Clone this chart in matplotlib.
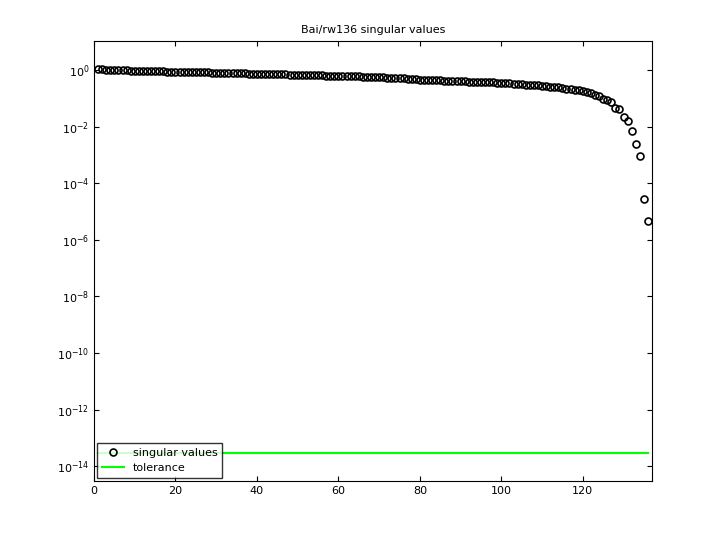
import numpy as np
import matplotlib
matplotlib.use("Agg")
import matplotlib.pyplot as plt

# log10 of singular values, index 1..136
LOG_SV = [
    0.03, 0.02, 0.01, 0.00, -0.01, -0.01, -0.02, -0.02, -0.03, -0.03,
    -0.03, -0.04, -0.04, -0.04, -0.05, -0.05, -0.05, -0.06, -0.06, -0.07,
    -0.07, -0.07, -0.08, -0.08, -0.08, -0.09, -0.09, -0.09, -0.10, -0.10,
    -0.10, -0.11, -0.11, -0.11, -0.12, -0.12, -0.12, -0.13, -0.13, -0.14,
    -0.14, -0.14, -0.15, -0.15, -0.15, -0.16, -0.16, -0.17, -0.17, -0.17,
    -0.18, -0.18, -0.18, -0.19, -0.19, -0.19, -0.20, -0.20, -0.20, -0.21,
    -0.21, -0.22, -0.22, -0.23, -0.23, -0.24, -0.24, -0.25, -0.25, -0.26,
    -0.26, -0.27, -0.28, -0.28, -0.29, -0.30, -0.31, -0.32, -0.33, -0.35,
    -0.35, -0.36, -0.36, -0.37, -0.37, -0.38, -0.38, -0.39, -0.39, -0.40,
    -0.40, -0.41, -0.41, -0.42, -0.42, -0.43, -0.44, -0.44, -0.45, -0.46,
    -0.47, -0.48, -0.49, -0.50, -0.51, -0.52, -0.53, -0.54, -0.55, -0.57,
    -0.58, -0.59, -0.61, -0.62, -0.64, -0.66, -0.68, -0.70, -0.72, -0.74,
    -0.77, -0.82, -0.87, -0.92, -1.02,
    -1.06, -1.13, -1.34, -1.38, -1.66, -1.80, -2.16, -2.61, -3.04, -4.56, -5.34,
]
TOLERANCE = 3.0e-14
TITLE = "Bai/rw136 singular values"

sv = 10.0 ** np.array(LOG_SV)
idx = np.arange(1, len(sv) + 1)

fig = plt.figure(figsize=(7.2, 5.4), dpi=100)
ax = fig.add_axes([0.1306, 0.109, 0.775, 0.815])
ax.semilogy(idx, sv, linestyle="none", marker="o", markersize=5, markerfacecolor="none",
            markeredgecolor="black", markeredgewidth=1.2, label="singular values")
ax.plot([1, len(sv)], [TOLERANCE, TOLERANCE], color="#00ff00", linewidth=1.5, label="tolerance")
ax.set_xlim(0, 137)
ax.set_ylim(10 ** -14.53, 10 ** 1.02)
ax.set_yticks([10.0 ** k for k in range(-14, 1, 2)])
ax.yaxis.set_minor_locator(matplotlib.ticker.NullLocator())
ax.set_xticks([0, 20, 40, 60, 80, 100, 120])
ax.tick_params(direction="in", which="both", top=True, right=True, labelsize=8)
ax.set_title(TITLE, fontsize=8)
ax.legend(loc="lower left", fontsize=8, fancybox=False, edgecolor="black", borderaxespad=0.3)
fig.savefig("out.png", dpi=100)
